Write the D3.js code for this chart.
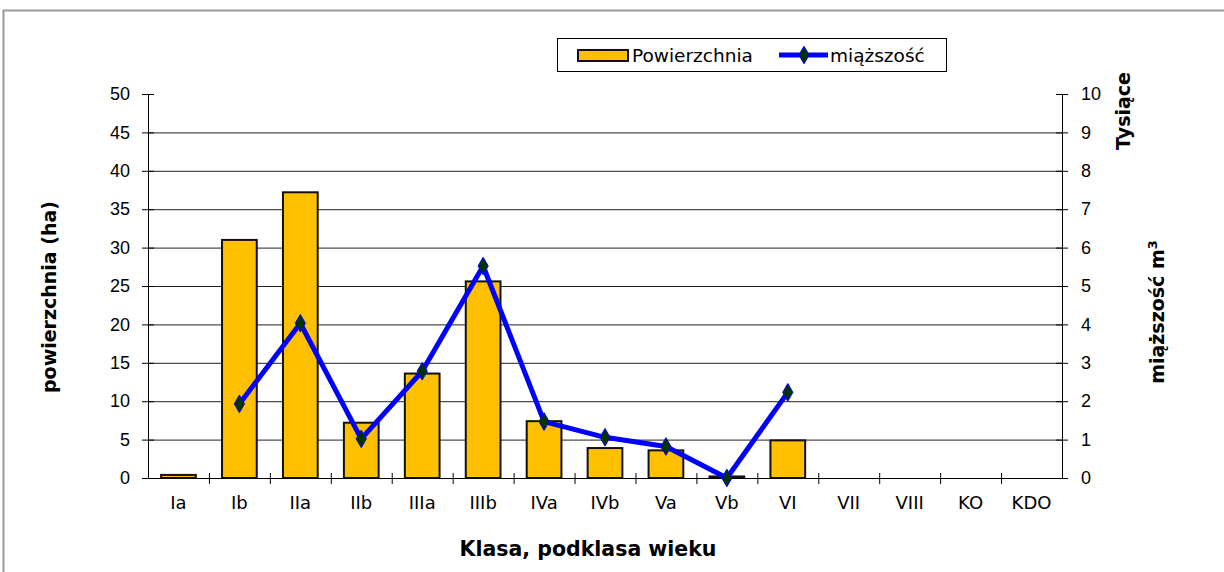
<!DOCTYPE html>
<html>
<head>
<meta charset="utf-8">
<script src="https://cdn.jsdelivr.net/npm/d3@7"></script>
<style>
  body { margin: 0; background: #fff; }
  svg { font-family: "DejaVu Sans", Arial, sans-serif; }
</style>
</head>
<body>
<div id="vis"></div>
<script>
// classes on the x axis
const classes = ["Ia", "Ib", "IIa", "IIb", "IIIa", "IIIb", "IVa", "IVb", "Va", "Vb", "VI", "VII", "VIII", "KO", "KDO"];
// area in ha (left axis)
const area = [0.4, 31.0, 37.2, 7.2, 13.6, 25.6, 7.4, 3.9, 3.6, 0.2, 4.9, null, null, null, null];
// volume in thousands m3 (right axis)
const volume = [null, 1.93, 4.03, 1.02, 2.78, 5.52, 1.47, 1.06, 0.82, 0.0, 2.23, null, null, null, null];
const leftTicks = [0, 5, 10, 15, 20, 25, 30, 35, 40, 45, 50];
const rightTicks = [0, 1, 2, 3, 4, 5, 6, 7, 8, 9, 10];

const W = 1224, H = 572;
const pLeft = 148, pRight = 1062, pTop = 94, pBottom = 478;

const svg = d3.select("#vis").append("svg")
    .attr("width", W)
    .attr("height", H);

// outer frame (only top and left edges are visible)
svg.append("path")
    .attr("d", `M3.5,${H} V10.5 H${W}`)
    .attr("fill", "none")
    .attr("stroke", "#9a9a9a")
    .attr("stroke-width", 2);

const x = d3.scaleBand().domain(classes).range([pLeft, pRight]).paddingInner(0.43).paddingOuter(0.215);
const xb = d3.scaleBand().domain(classes).range([pLeft, pRight]);
const yL = d3.scaleLinear().domain([0, 50]).range([pBottom, pTop]);
const yR = d3.scaleLinear().domain([0, 10]).range([pBottom, pTop]);

// gridlines
svg.append("g")
    .selectAll("line")
    .data(leftTicks.filter(d => d > 0 && d < 50))
    .join("line")
    .attr("x1", pLeft).attr("x2", pRight)
    .attr("y1", d => yL(d) + 0.5).attr("y2", d => yL(d) + 0.5)
    .attr("stroke", "#222")
    .attr("stroke-width", 1);

// bars
svg.append("g")
    .selectAll("rect")
    .data(classes.map((c, i) => ({c, v: area[i]})).filter(d => d.v != null))
    .join("rect")
    .attr("x", d => x(d.c))
    .attr("y", d => yL(d.v))
    .attr("width", x.bandwidth())
    .attr("height", d => yL(0) - yL(d.v))
    .attr("fill", "#ffc000")
    .attr("stroke", "#111")
    .attr("stroke-width", 2);

// left axis
const axL = svg.append("g").attr("transform", `translate(${pLeft},0)`)
    .call(d3.axisLeft(yL).tickValues(leftTicks).tickSize(6).tickSizeOuter(0));
axL.select(".domain").attr("stroke", "#000");
axL.selectAll(".tick line").attr("x1", 6).attr("x2", -6);
axL.selectAll(".tick text").attr("x", -18).attr("font-size", 18).attr("fill", "#000");

// right axis
const axR = svg.append("g").attr("transform", `translate(${pRight},0)`)
    .call(d3.axisRight(yR).tickValues(rightTicks).tickSize(6).tickSizeOuter(0));
axR.select(".domain").attr("stroke", "#000");
axR.selectAll(".tick line").attr("x1", -6).attr("x2", 6);
axR.selectAll(".tick text").attr("x", 19).attr("font-size", 18).attr("fill", "#000");

// bottom axis with ticks between categories
const axB = svg.append("g").attr("transform", `translate(0,${pBottom})`);
axB.append("line").attr("x1", pLeft).attr("x2", pRight).attr("y1", 0.5).attr("y2", 0.5).attr("stroke", "#000");
axB.selectAll(".tk")
    .data(classes.slice(1))
    .join("line")
    .attr("class", "tk")
    .attr("x1", d => xb(d) + 0.5).attr("x2", d => xb(d) + 0.5)
    .attr("y1", -5).attr("y2", 6)
    .attr("stroke", "#000");
axB.selectAll("text")
    .data(classes)
    .join("text")
    .attr("x", d => xb(d) + xb.bandwidth() / 2)
    .attr("y", 31)
    .attr("text-anchor", "middle")
    .attr("font-size", 18)
    .text(d => d);

// line series
const pts = classes.map((c, i) => ({c, v: volume[i]})).filter(d => d.v != null);
const line = d3.line().x(d => xb(d.c) + xb.bandwidth() / 2).y(d => yR(d.v));
svg.append("path")
    .datum(pts)
    .attr("d", line)
    .attr("fill", "none")
    .attr("stroke", "#0000ff")
    .attr("stroke-width", 5)
    .attr("stroke-linejoin", "round");

const diamond = d3.symbol().type(d3.symbolDiamond).size(90);
svg.append("g")
    .selectAll("path")
    .data(pts)
    .join("path")
    .attr("transform", d => `translate(${xb(d.c) + xb.bandwidth() / 2},${yR(d.v)})`)
    .attr("d", diamond)
    .attr("fill", "#003300")
    .attr("stroke", "#0000ff")
    .attr("stroke-width", 1);

// axis titles
svg.append("text")
    .attr("transform", `translate(56,297) rotate(-90)`)
    .attr("text-anchor", "middle")
    .attr("font-size", 19)
    .attr("font-weight", "bold")
    .text("powierzchnia (ha)");

svg.append("text")
    .attr("transform", `translate(1130,111) rotate(-90)`)
    .attr("text-anchor", "middle")
    .attr("font-size", 19)
    .attr("font-weight", "bold")
    .text("Tysiące");

const t2 = svg.append("text")
    .attr("transform", `translate(1164,312) rotate(-90)`)
    .attr("text-anchor", "middle")
    .attr("font-size", 19)
    .attr("font-weight", "bold")
    .text("miąższość m");
t2.append("tspan").attr("font-size", 13).attr("dy", -7).text("3");

svg.append("text")
    .attr("x", 588)
    .attr("y", 556)
    .attr("text-anchor", "middle")
    .attr("font-size", 20.5)
    .attr("font-weight", "bold")
    .text("Klasa, podklasa wieku");

// legend
const lg = svg.append("g");
lg.append("rect")
    .attr("x", 557.5).attr("y", 38.5).attr("width", 389).attr("height", 33)
    .attr("fill", "#fff").attr("stroke", "#000");
lg.append("rect")
    .attr("x", 578).attr("y", 50).attr("width", 50).attr("height", 11)
    .attr("fill", "#ffc000").attr("stroke", "#111").attr("stroke-width", 2);
lg.append("text").attr("x", 632).attr("y", 62).attr("font-size", 18.5).text("Powierzchnia");
lg.append("line")
    .attr("x1", 779).attr("x2", 828).attr("y1", 55).attr("y2", 55)
    .attr("stroke", "#0000ff").attr("stroke-width", 5);
lg.append("path")
    .attr("transform", "translate(804,55)")
    .attr("d", diamond)
    .attr("fill", "#003300").attr("stroke", "#0000ff");
lg.append("text").attr("x", 830).attr("y", 62).attr("font-size", 18.5).text("miąższość");
</script>
</body>
</html>
